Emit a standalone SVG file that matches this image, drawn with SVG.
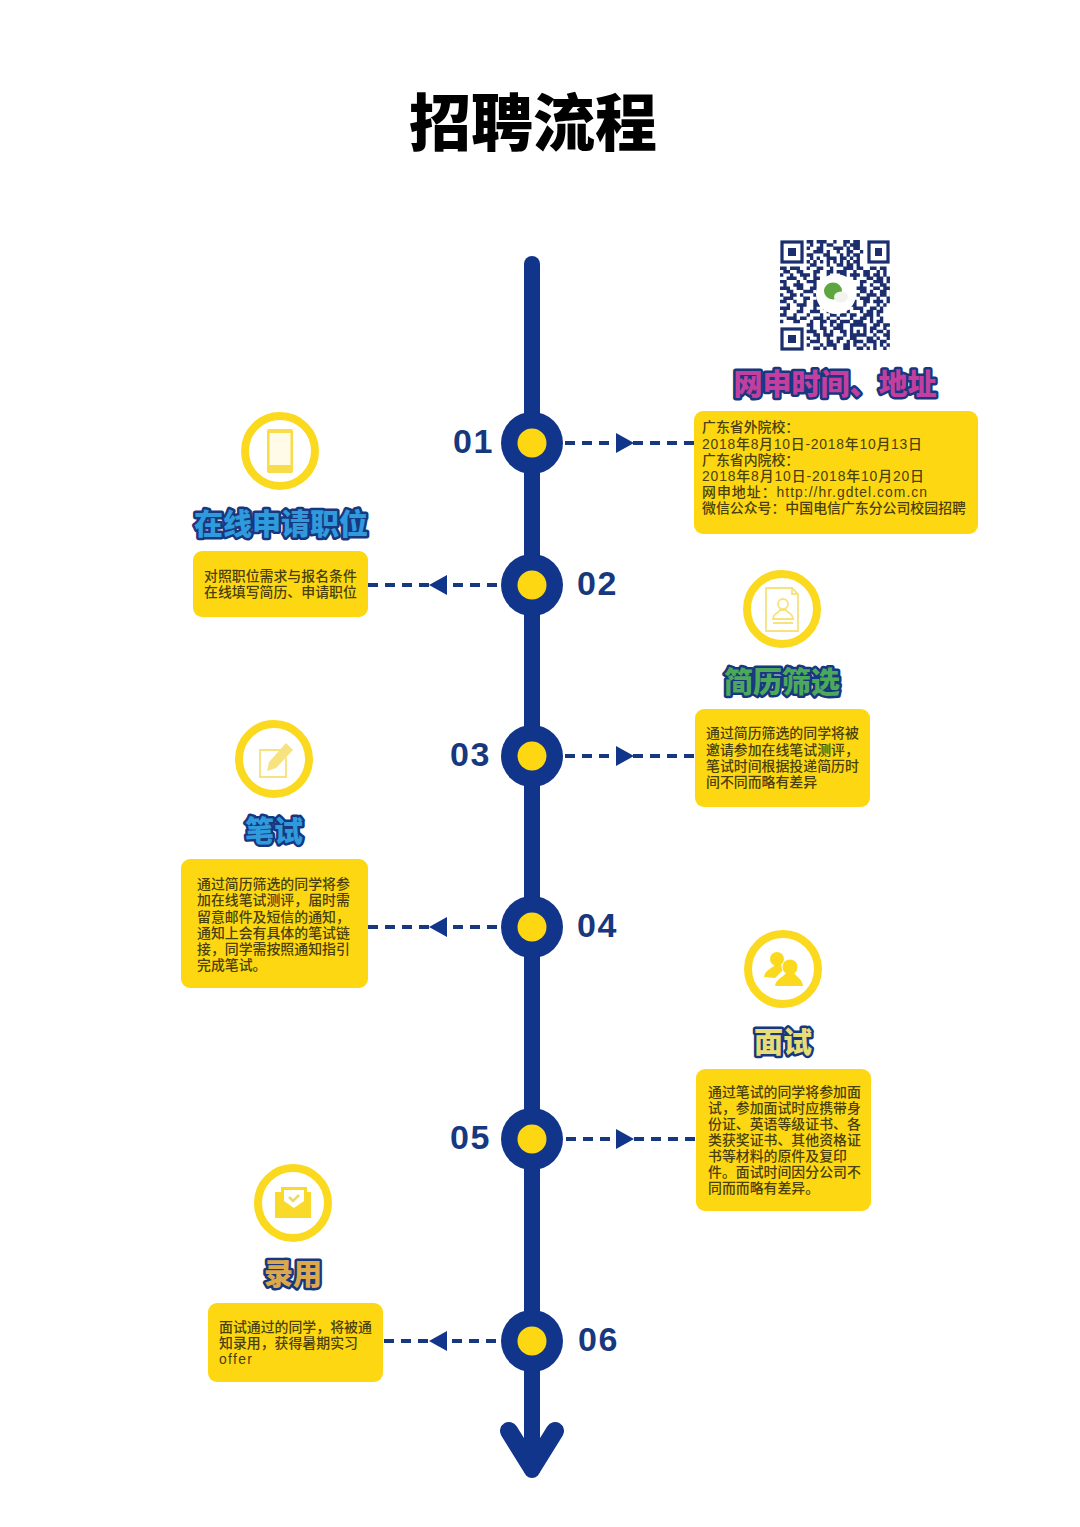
<svg xmlns="http://www.w3.org/2000/svg" width="1080" height="1527" viewBox="0 0 1080 1527">
<style>
text{font-family:"Noto Sans CJK SC","Noto Sans",sans-serif}
.title{font-size:62px;font-weight:900;fill:#000;text-anchor:middle}
.head{font-size:29px;font-weight:900;text-anchor:middle;stroke:#17387f;stroke-width:5px;stroke-linejoin:round;paint-order:stroke}
.body{font-family:"Liberation Sans","Noto Sans CJK SC",sans-serif;font-size:13.9px;font-weight:500;fill:#4a400c}
.num{font-family:"Liberation Sans",Arial,sans-serif;font-size:34px;font-weight:700;fill:#17387f;letter-spacing:1.500px}
.box{fill:#fdd812}
.ring{fill:#fff;stroke:#fad91f;stroke-width:8}
.spine{fill:none;stroke:#12358c;stroke-width:16;stroke-linecap:round}
.dot{fill:#12358c}
.inner{fill:#fdd812}
.dash{fill:none;stroke:#17387f;stroke-width:4;stroke-dasharray:10 7}
.tri{fill:#12358c}
.ico{fill:#f9dc4a}
.ol{fill:none;stroke:#f6e27e;stroke-width:1.8}
</style>
<defs>
<filter id="soft" x="-5%" y="-5%" width="110%" height="110%"><feGaussianBlur stdDeviation="0.5"/></filter>
<clipPath id="qrclip"><rect x="780" y="240" width="110" height="110"/></clipPath>
</defs>
<rect width="1080" height="1527" fill="#fff"/>
<text class="title" x="533" y="146">招聘流程</text>

<g id="connectors">
<path class="spine" d="M532 264V1470"/>
<path d="M509 1431L532 1468L555 1431" fill="none" stroke="#12358c" stroke-width="18" stroke-linecap="round" stroke-linejoin="round"/>
<path class="dash" d="M694 443H562"/>
<path class="tri" d="M634 443L616 433V453Z"/>
<path class="dash" d="M368 585H500"/>
<path class="tri" d="M429 585L447 575V595Z"/>
<path class="dash" d="M694 756H562"/>
<path class="tri" d="M634 756L616 746V766Z"/>
<path class="dash" d="M368 927H500"/>
<path class="tri" d="M429 927L447 917V937Z"/>
<path class="dash" d="M695 1139H562"/>
<path class="tri" d="M634 1139L616 1129V1149Z"/>
<path class="dash" d="M384 1341H500"/>
<path class="tri" d="M429 1341L447 1331V1351Z"/>
</g>

<g id="step-01">
<circle class="dot" cx="532" cy="443" r="31"/><circle class="inner" cx="532" cy="443" r="14.5"/>
<text class="num" x="453" y="453">01</text>
<g id="qr" filter="url(#soft)">
<g fill="none" stroke="#1a2f6e" stroke-width="3.2">
<rect x="782" y="242" width="20" height="20"/><rect x="869" y="242" width="19" height="20"/><rect x="782" y="329" width="20" height="20"/>
</g>
<g fill="#1a2f6e"><rect x="788" y="248" width="8" height="8"/><rect x="875" y="248" width="7" height="8"/><rect x="788" y="335" width="8" height="8"/></g>
<g clip-path="url(#qrclip)">
<path transform="translate(780 240) scale(3.33)" fill="none" stroke="#1a2f6e" stroke-width="1.05" d="M8 .5h2m1 0h3m2 0h1m2 0h2m1 0h2
M9 1.5h1m2 0h1m1 0h2m3 0h1m1 0h3
M8 2.5h1m2 0h2m3 0h3m1 0h1m1 0h2
M10 3.5h3m1 0h1m2 0h1m2 0h2m2 0h1
M8 4.5h2m3 0h2m3 0h1m1 0h1m1 0h2
M9 5.5h1m1 0h1m2 0h3m1 0h2m1 0h1m1 0h1
M8 6.5h1m1 0h1m1 0h1m1 0h1m1 0h1m1 0h1m1 0h1m1 0h2
M9 7.5h2m3 0h1m2 0h2m1 0h2m1 0h1
M0 8.5h2m1 0h3m2 0h1m2 0h2m2 0h1m3 0h3m1 0h2m2 0h2m1 0h2
M1 9.5h2m2 0h2m3 0h2m2 0h2m1 0h3m2 0h1m2 0h2m2 0h1m1 0h1
M0 10.5h1m2 0h1m2 0h3m1 0h1m3 0h1m3 0h2m1 0h3m1 0h2m1 0h2m1 0h1
M2 11.5h3m2 0h1m2 0h2m4 0h1m2 0h1m2 0h1m3 0h2m1 0h2m1 0h2
M0 12.5h2m3 0h1m2 0h3m2 0h1m10 0h2m2 0h3m1 0h1m1 0h1
M1 13.5h1m2 0h3m3 0h1m13 0h1m2 0h1m2 0h2m1 0h1
M0 14.5h3m2 0h2m2 0h2m12 0h3m2 0h2m1 0h2
M2 15.5h2m3 0h3m1 0h1m12 0h2m1 0h1m2 0h2m1 0h1
M0 16.5h1m2 0h2m1 0h1m3 0h1m12 0h1m2 0h3m1 0h2m1 0h1
M1 17.5h3m3 0h2m2 0h1m12 0h3m2 0h1m2 0h1m1 0h2
M0 18.5h2m2 0h1m2 0h1m2 0h2m10 0h1m2 0h2m1 0h3m1 0h1
M2 19.5h1m2 0h3m2 0h2m1 0h2m2 0h1m2 0h3m2 0h1m3 0h1m1 0h1
M0 20.5h3m3 0h1m3 0h1m2 0h1m1 0h2m1 0h2m2 0h3m2 0h2m1 0h1
M1 21.5h1m3 0h2m2 0h3m2 0h3m3 0h1m3 0h1m1 0h2m1 0h2
M0 22.5h2m2 0h1m3 0h1m3 0h1m2 0h2m1 0h2m1 0h2m2 0h3m1 0h1
M2 23.5h3m1 0h2m2 0h3m1 0h1m2 0h1m3 0h1m2 0h2m1 0h1m2 0h1
M0 24.5h1m3 0h2m3 0h1m2 0h2m1 0h2m1 0h3m1 0h3m2 0h1m1 0h2
M8 25.5h2m2 0h1m2 0h1m1 0h2m2 0h5m2 0h2m1 0h2
M9 26.5h1m2 0h2m2 0h3m2 0h1m3 0h1m1 0h2m2 0h1
M8 27.5h3m2 0h1m1 0h1m2 0h2m1 0h1m1 0h1m1 0h1m1 0h1m1 0h2m1 0h1
M10 28.5h2m1 0h3m3 0h1m1 0h5m2 0h1m2 0h2
M8 29.5h1m2 0h1m2 0h1m2 0h2m2 0h2m3 0h2m1 0h1m2 0h1
M9 30.5h3m2 0h2m1 0h1m2 0h1m1 0h3m1 0h3m1 0h2
M8 31.5h1m3 0h1m1 0h3m2 0h2m1 0h1m2 0h1m2 0h1m1 0h1m1 0h1
M10 32.5h2m1 0h1m2 0h1m2 0h2m2 0h2m1 0h1m1 0h1m2 0h1m1 0h1"/>
</g>
<circle cx="836" cy="294" r="20" fill="#fff"/>
<ellipse cx="833" cy="291" rx="9" ry="8.5" fill="#5da63f"/>
<ellipse cx="841" cy="297" rx="7" ry="5.5" fill="#f2f3ee"/>
</g>
<text class="head" x="835" y="395" fill="#c23f9f">网申时间、地址</text>
<rect class="box" x="694" y="411" width="284" height="123" rx="9"/>
<text class="body" x="702" y="432">广东省外院校：</text>
<text class="body" x="702" y="449" textLength="220" lengthAdjust="spacing">2018年8月10日-2018年10月13日</text>
<text class="body" x="702" y="465">广东省内院校：</text>
<text class="body" x="702" y="481" textLength="222" lengthAdjust="spacing">2018年8月10日-2018年10月20日</text>
<text class="body" x="702" y="497" textLength="225" lengthAdjust="spacing">网申地址：http://hr.gdtel.com.cn</text>
<text class="body" x="702" y="513">微信公众号：中国电信广东分公司校园招聘</text>
</g>

<g id="step-02">
<circle class="dot" cx="532" cy="585" r="31"/><circle class="inner" cx="532" cy="585" r="14.5"/>
<text class="num" x="577" y="595">02</text>
<circle class="ring" cx="280" cy="451" r="35"/>
<rect class="ico" x="267" y="429" width="26" height="44" rx="2"/>
<rect x="269.500" y="433" width="21" height="32" fill="#fffbe8"/>
<text class="head" x="281" y="535" fill="#2f9bdc">在线申请职位</text>
<rect class="box" x="193" y="551" width="175" height="66" rx="9"/>
<text class="body" x="204" y="581">对照职位需求与报名条件</text>
<text class="body" x="204" y="597">在线填写简历、申请职位</text>
</g>

<g id="step-03">
<circle class="dot" cx="532" cy="756" r="31"/><circle class="inner" cx="532" cy="756" r="14.5"/>
<text class="num" x="450" y="766">03</text>
<circle class="ring" cx="782" cy="609" r="35"/>
<path class="ol" d="M766 588H792L798 594V631H766ZM792 588V594H798"/>
<circle class="ol" cx="783" cy="604" r="5"/>
<path class="ol" d="M773 619C773 613 779 613 780 610H786C787 613 793 613 793 619ZM773 623H793"/>
<text class="head" x="782" y="693" fill="#4ca85a">简历筛选</text>
<rect class="box" x="695" y="709" width="175" height="98" rx="9"/>
<text class="body" x="706" y="738">通过简历筛选的同学将被</text>
<text class="body" x="706" y="755">邀请参加在线笔试测评，</text>
<text class="body" x="706" y="771">笔试时间根据投递简历时</text>
<text class="body" x="706" y="787">间不同而略有差异</text>
</g>

<g id="step-04">
<circle class="dot" cx="532" cy="927" r="31"/><circle class="inner" cx="532" cy="927" r="14.5"/>
<text class="num" x="577" y="937">04</text>
<circle class="ring" cx="274" cy="759" r="35"/>
<path class="ol" d="M282 750H260V777H286V758"/>
<path d="M267 771L269 762L286 743L293 750L276 768Z" fill="#f6e27e"/>
<text class="head" x="274" y="842" fill="#2f9bdc">笔试</text>
<rect class="box" x="181" y="859" width="187" height="129" rx="9"/>
<text class="body" x="197" y="889">通过简历筛选的同学将参</text>
<text class="body" x="197" y="905">加在线笔试测评，届时需</text>
<text class="body" x="197" y="922">留意邮件及短信的通知，</text>
<text class="body" x="197" y="938">通知上会有具体的笔试链</text>
<text class="body" x="197" y="954">接，同学需按照通知指引</text>
<text class="body" x="197" y="970">完成笔试。</text>
</g>

<g id="step-05">
<circle class="dot" cx="532" cy="1139" r="31"/><circle class="inner" cx="532" cy="1139" r="14.5"/>
<text class="num" x="450" y="1149">05</text>
<circle class="ring" cx="783" cy="969" r="35"/>
<circle cx="777" cy="959" r="7" fill="#fad91f"/>
<path d="M764 977C765 970 771 969 775 965H781L785 968L775 978Z" fill="#fad91f"/>
<circle cx="790" cy="967" r="8" stroke="#fff" stroke-width="1" fill="#fad91f"/>
<path d="M775 986C776 979 782 978 786 973H794C798 978 802 979 803 986Z" fill="#fad91f"/>
<text class="head" x="783" y="1053" fill="#e6dc78">面试</text>
<rect class="box" x="696" y="1069" width="175" height="142" rx="9"/>
<text class="body" x="708" y="1097">通过笔试的同学将参加面</text>
<text class="body" x="708" y="1113">试，参加面试时应携带身</text>
<text class="body" x="708" y="1129">份证、英语等级证书、各</text>
<text class="body" x="708" y="1145">类获奖证书、其他资格证</text>
<text class="body" x="708" y="1161">书等材料的原件及复印</text>
<text class="body" x="708" y="1177">件。面试时间因分公司不</text>
<text class="body" x="708" y="1193">同而而略有差异。</text>
</g>

<g id="step-06">
<circle class="dot" cx="532" cy="1341" r="31"/><circle class="inner" cx="532" cy="1341" r="14.5"/>
<text class="num" x="578" y="1351">06</text>
<circle class="ring" cx="293" cy="1203" r="35"/>
<path d="M275 1192H281V1187H307V1192H311V1218H275Z" fill="#f9d92a"/>
<path d="M284 1190H304V1201L294 1208L284 1201Z" fill="#fff"/>
<path d="M289 1197L293 1201L299 1195" fill="none" stroke="#e9d86a" stroke-width="2.500"/>
<text class="head" x="293" y="1285" fill="#dba94c">录用</text>
<rect class="box" x="208" y="1303" width="175" height="79" rx="9"/>
<text class="body" x="219" y="1332">面试通过的同学，将被通</text>
<text class="body" x="219" y="1348">知录用，获得暑期实习</text>
<text class="body" x="219" y="1364" textLength="33" lengthAdjust="spacing">offer</text>
</g>
</svg>
